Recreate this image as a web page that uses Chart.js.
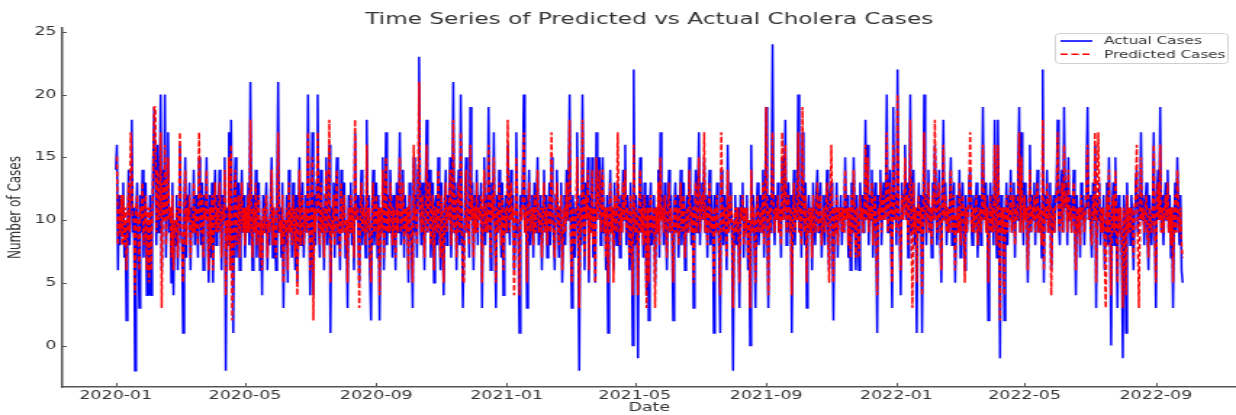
<!DOCTYPE html>
<html>
<head>
<meta charset="utf-8">
<script src="https://cdn.jsdelivr.net/npm/chart.js@4.4.0/dist/chart.umd.min.js"></script>
<style>
  html, body { margin: 0; padding: 0; background: #fff; overflow: hidden; }
  /* the reference is a horizontally stretched figure, so the canvas is stretched the same way */
  #wrap { position: absolute; left: 0; top: 0; width: 852px; height: 415px; transform: scaleX(1.4507); transform-origin: 0 0; }
</style>
</head>
<body>
<div id="wrap"><canvas id="chart" width="852" height="415"></canvas></div>
<script>
const chartTitle = 'Time Series of Predicted vs Actual Cholera Cases';
const startDate = '2020-01-01';
const tickLabels = ['2020-01', '2020-05', '2020-09', '2021-01', '2021-05', '2021-09', '2022-01', '2022-05', '2022-09'];
const yTicks = [0, 5, 10, 15, 20, 25];

// daily values, one row = 20 days
const actualCases = [
  14,16,6,12,8,11,9,13,7,10,2,9,14,8,12,18,9,11,-2,10,
  13,8,3,12,9,14,7,11,13,4,10,4,12,4,9,15,19,13,8,16,
  9,12,20,6,14,10,20,7,12,17,9,11,5,13,4,10,8,12,6,11,
  16,9,8,1,11,15,7,12,10,13,6,11,9,14,8,12,10,7,15,11,
  8,13,6,12,10,15,9,5,12,7,13,5,11,14,8,12,9,14,11,6,
  12,10,15,-2,11,8,17,6,18,9,1,12,15,7,10,13,6,11,14,9,
  12,7,11,9,13,8,21,10,6,12,9,14,7,11,13,6,10,4,12,9,
  11,13,6,10,8,12,15,7,11,9,6,12,21,9,11,7,13,3,10,8,
  12,5,14,9,11,7,13,10,6,12,5,9,15,8,11,13,7,10,12,9,
  20,11,4,9,17,4,12,8,13,20,10,7,14,9,11,6,12,15,8,10,
  16,1,11,9,13,7,12,15,8,10,6,14,9,11,13,7,10,3,12,9,
  13,8,11,6,17,10,12,9,5,11,14,8,12,10,7,18,9,12,6,2,
  11,14,8,10,13,7,12,2,11,9,15,6,10,17,8,12,9,14,11,7,
  12,10,6,13,9,11,17,8,10,14,7,12,9,11,5,13,10,8,3,15,
  9,12,7,14,23,11,8,13,10,6,12,18,9,11,14,7,10,13,5,11,
  12,8,15,10,6,13,9,4,11,14,8,12,10,15,7,11,21,9,13,6,
  11,14,8,20,10,3,3,12,15,9,11,7,19,10,13,6,12,9,14,8,
  12,10,13,3,11,15,8,12,9,19,11,6,13,10,17,8,3,12,9,14,
  11,7,13,4,10,12,9,16,11,8,14,10,12,6,9,17,11,8,1,12,
  10,13,20,9,12,3,11,14,8,10,12,7,13,9,11,15,8,10,12,6,
  11,14,9,12,7,10,13,8,15,11,9,6,12,14,10,7,11,13,5,9,
  12,8,14,10,13,20,9,3,12,10,7,11,17,9,-2,12,8,20,11,6,
  13,10,15,5,12,9,15,7,11,5,17,10,13,15,8,12,15,9,11,6,
  12,1,10,14,9,11,6,13,10,8,13,11,7,12,9,14,10,16,8,12,
  10,6,13,9,0,22,8,12,10,-1,11,15,9,12,7,13,10,4,12,2,
  11,13,8,10,12,5,11,9,14,7,17,10,12,8,13,10,6,11,14,9,
  12,8,2,11,13,9,12,7,10,14,8,11,13,6,10,12,9,15,11,8,
  12,3,10,14,9,12,17,8,11,13,10,15,9,12,7,11,14,8,12,10,
  1,12,9,13,10,7,1,14,11,8,12,10,6,16,9,11,13,8,-2,10,
  12,8,11,9,3,12,10,13,7,11,9,12,6,10,0,16,9,12,8,3,
  11,13,8,10,12,9,14,7,11,19,10,3,12,9,13,24,11,8,12,10,
  13,9,11,7,15,10,12,18,8,11,13,9,12,1,10,14,8,12,10,20,
  9,12,7,17,11,8,13,3,10,12,9,11,6,13,10,8,12,14,9,11,
  13,7,10,12,8,11,14,9,6,12,13,10,2,11,9,13,7,11,10,12,
  8,11,9,15,10,12,7,11,6,13,9,15,10,6,12,9,6,13,10,12,
  9,11,18,10,16,8,12,10,14,7,11,13,9,1,12,10,14,8,11,13,
  10,12,20,9,11,14,8,3,19,10,12,8,22,11,9,4,13,10,12,16,
  10,13,7,11,20,9,12,14,8,11,1,10,13,9,12,1,10,20,11,8,
  12,14,9,11,7,13,10,16,12,8,11,14,9,5,12,18,10,13,8,11,
  9,12,15,8,11,13,5,10,12,9,14,7,11,13,10,6,12,9,11,13,
  14,10,8,12,9,11,13,7,10,12,8,11,19,10,13,9,12,2,10,13,
  9,12,8,18,11,7,18,10,-1,12,9,11,2,10,13,8,12,10,14,9,
  11,13,7,12,10,14,19,9,17,11,8,13,10,12,5,11,16,9,12,10,
  13,8,11,14,9,12,10,7,22,5,12,10,14,9,11,13,6,10,12,9,
  11,13,18,10,8,12,14,9,19,11,13,8,15,10,12,9,11,14,10,4,
  12,9,11,7,13,10,12,8,11,14,19,10,12,9,7,13,10,16,3,12,
  10,13,8,11,9,12,6,10,13,8,15,9,0,11,13,8,15,10,3,12,
  9,11,7,-1,12,10,1,13,9,11,8,12,10,6,11,13,14,9,12,10,
  17,10,12,8,11,13,9,6,12,10,8,11,17,9,3,12,14,10,19,9,
  12,8,11,13,10,14,9,12,7,11,3,10,13,9,15,11,8,12,6,5
];

const predictedCases = [
  15,15,8,11,9,12,8,12,8,11,6,9,13,9,17,14,10,10,4,11,
  12,9,6,11,10,13,8,10,12,6,11,5,11,6,10,14,19,19,9,14,
  10,11,17,3,13,10,16,8,11,15,10,11,7,12,6,10,9,11,7,10,
  17,10,8,5,10,14,8,11,10,12,7,10,9,13,9,11,10,8,17,11,
  9,12,7,11,10,14,9,6,11,8,12,6,11,13,9,11,9,13,11,7,
  11,10,14,4,10,8,15,6,16,2,6,11,14,8,10,12,7,11,13,9,
  11,8,11,9,12,9,18,10,7,11,9,13,8,11,12,7,10,6,11,9,
  11,12,7,10,9,11,14,8,11,9,7,11,17,9,10,8,12,5,10,9,
  11,6,13,9,11,8,12,10,7,11,4,9,14,8,11,12,8,10,11,9,
  17,11,6,9,15,2,11,9,12,17,10,8,13,9,11,7,11,14,9,10,
  18,5,10,9,12,8,11,14,9,10,7,13,9,11,12,8,10,5,11,9,
  12,9,11,7,18,10,11,9,3,11,13,9,11,10,8,16,9,11,7,5,
  11,13,9,10,12,8,11,4,11,9,14,7,10,15,9,11,9,13,11,8,
  11,10,7,12,9,11,15,9,10,13,8,11,9,11,6,12,10,9,5,16,
  10,11,8,13,21,11,9,12,10,7,11,16,9,11,13,8,10,12,6,11,
  11,9,14,10,7,12,9,5,11,13,9,11,10,14,8,11,18,9,12,7,
  11,13,9,17,10,5,5,11,14,9,11,8,16,10,12,7,11,9,13,9,
  11,10,12,5,11,14,9,11,9,16,11,7,12,10,15,9,5,11,9,13,
  11,8,12,6,10,11,9,18,11,9,13,10,11,4,9,15,11,9,4,11,
  10,12,17,9,11,5,11,13,9,10,11,8,12,9,11,14,9,10,11,7,
  11,13,9,11,8,10,12,9,17,11,9,7,11,13,10,8,11,12,6,9,
  11,9,13,10,12,18,9,5,11,10,8,11,15,9,3,11,9,18,11,7,
  12,10,14,6,11,9,14,8,11,5,15,10,12,14,9,11,14,9,11,7,
  11,5,10,13,9,11,5,12,10,9,17,11,8,11,9,13,10,14,9,11,
  10,7,12,9,4,16,9,11,10,4,11,14,9,11,8,12,10,3,11,5,
  11,12,9,10,11,3,11,9,13,8,15,10,11,9,12,10,7,11,13,9,
  11,9,5,11,12,9,11,8,10,13,9,11,12,7,10,11,9,14,11,9,
  11,5,10,13,9,11,15,9,11,12,10,17,9,11,8,11,13,9,11,10,
  5,11,9,12,10,8,4,17,11,9,11,10,7,14,9,11,12,9,3,10,
  11,9,11,9,5,11,10,12,8,11,9,11,7,10,3,14,9,11,9,5,
  11,12,9,10,11,9,13,8,11,19,10,4,11,9,12,17,11,9,11,10,
  12,9,11,8,17,10,11,16,9,11,12,9,11,4,10,13,9,11,10,17,
  9,11,8,19,11,9,12,5,10,11,9,11,7,12,10,9,11,13,9,11,
  12,8,10,11,9,11,13,9,5,11,16,10,5,11,9,12,8,11,10,11,
  9,11,9,14,10,11,8,11,7,12,9,14,10,7,11,9,7,12,10,11,
  9,11,16,10,15,9,11,10,13,8,11,12,9,4,11,10,13,9,11,12,
  10,11,17,9,11,13,9,5,16,10,11,9,20,11,9,6,12,10,11,15,
  10,12,8,11,18,9,3,13,9,11,5,10,12,9,11,4,10,17,11,9,
  11,13,9,11,8,12,10,18,11,9,11,13,9,6,11,16,10,12,9,11,
  9,11,14,9,11,12,6,10,11,9,13,8,11,12,10,5,11,9,11,12,
  17,10,9,11,9,11,12,8,10,11,9,11,16,10,12,9,11,5,10,12,
  9,11,9,16,11,8,16,10,2,11,9,11,4,10,12,9,11,10,13,9,
  11,12,8,11,10,13,17,9,15,11,9,12,10,11,6,11,14,9,11,10,
  12,9,11,13,9,11,10,8,18,6,11,10,13,9,11,12,4,10,11,9,
  11,12,17,10,9,11,13,9,16,11,12,9,14,10,11,9,11,13,10,6,
  11,9,11,8,12,10,11,9,11,13,16,10,11,9,8,12,10,17,5,11,
  17,12,9,11,9,11,7,3,12,9,14,9,4,11,12,9,14,10,5,11,
  9,11,8,3,11,10,4,12,9,11,9,11,10,7,11,12,16,9,3,10,
  15,10,11,9,11,12,9,7,11,10,9,11,16,9,5,11,13,10,16,9,
  11,9,11,12,10,13,9,11,8,11,5,10,12,9,14,11,9,11,8,7
];

// day offsets from the start date
const DAY = 86400000;
const start = Date.parse(startDate + 'T00:00:00Z');
function dayOffset(label) {
  const [yy, mm] = label.split('-').map(Number);
  return (Date.UTC(yy, mm - 1, 1) - start) / DAY;
}
const tickDays = tickLabels.map(dayOffset);
const days = actualCases.map((v, i) => i);

Chart.defaults.font.family = '"DejaVu Sans", sans-serif';
Chart.defaults.color = '#333';

// inward tick marks and the title centred over the axes
const axesExtras = {
  id: 'axesExtras',
  afterDraw(chart) {
    const {ctx, chartArea: a, scales: {x, y}} = chart;
    ctx.save();
    ctx.strokeStyle = '#555';
    ctx.lineWidth = 1;
    ctx.beginPath();
    x.ticks.forEach(t => {
      const px = Math.round(x.getPixelForValue(t.value)) + 0.5;
      ctx.moveTo(px, a.bottom);
      ctx.lineTo(px, a.bottom - 4);
    });
    y.ticks.forEach(t => {
      const py = Math.round(y.getPixelForValue(t.value)) + 0.5;
      ctx.moveTo(a.left, py);
      ctx.lineTo(a.left + 3, py);
    });
    ctx.stroke();

    ctx.fillStyle = '#333';
    ctx.font = '16px "DejaVu Sans"';
    ctx.textAlign = 'center';
    ctx.textBaseline = 'alphabetic';
    ctx.fillText(chartTitle, (a.left + a.right) / 2, 23.5);
    ctx.restore();
  }
};

// legend box in the upper right corner of the axes
const boxLegend = {
  id: 'boxLegend',
  afterDraw(chart) {
    const ctx = chart.ctx;
    const bx = 727, by = 33, bw = 119, bh = 30;
    ctx.save();
    ctx.fillStyle = 'rgba(255,255,255,0.8)';
    ctx.strokeStyle = '#d0d0d0';
    ctx.lineWidth = 1;
    ctx.beginPath();
    ctx.roundRect(bx + 0.5, by + 0.5, bw, bh, 3);
    ctx.fill();
    ctx.stroke();
    ctx.font = '10.5px "DejaVu Sans"';
    ctx.textBaseline = 'middle';
    ctx.textAlign = 'left';
    chart.data.datasets.forEach((ds, i) => {
      const ly = by + 8 + i * 13.3;
      ctx.strokeStyle = ds.borderColor;
      ctx.lineWidth = 1.6;
      ctx.setLineDash(ds.borderDash || []);
      ctx.beginPath();
      ctx.moveTo(bx + 4, ly);
      ctx.lineTo(bx + 26, ly);
      ctx.stroke();
      ctx.setLineDash([]);
      ctx.fillStyle = '#333';
      ctx.fillText(ds.label, bx + 34, ly + 0.5);
    });
    ctx.restore();
  }
};

new Chart(document.getElementById('chart'), {
  type: 'line',
  data: {
    labels: days,
    datasets: [
      {
        label: 'Actual Cases',
        data: actualCases,
        borderColor: '#0000ff',
        borderWidth: 1.5,
        pointRadius: 0,
        tension: 0,
        order: 1
      },
      {
        label: 'Predicted Cases',
        data: predictedCases,
        borderColor: '#ff0000',
        borderWidth: 1.5,
        borderDash: [5, 2.5],
        pointRadius: 0,
        tension: 0,
        order: 0
      }
    ]
  },
  options: {
    responsive: false,
    animation: false,
    devicePixelRatio: 1,
    layout: { padding: { top: 28, right: 0, bottom: 0, left: 0 } },
    plugins: {
      legend: { display: false },
      tooltip: { enabled: false }
    },
    scales: {
      x: {
        type: 'linear',
        min: -50,
        max: 1049,
        afterBuildTicks: s => { s.ticks = tickDays.map(v => ({ value: v })); },
        afterFit: s => { s.height = 28; },
        ticks: {
          callback: v => tickLabels[tickDays.indexOf(v)],
          font: { size: 12 },
          color: '#333',
          padding: 2,
          maxRotation: 0,
          autoSkip: false
        },
        grid: { display: false, drawTicks: false },
        border: { display: true, color: '#555', width: 1.5 },
        title: { display: true, text: 'Date', font: { size: 12 }, color: '#333', padding: { top: 0, bottom: 0 } }
      },
      y: {
        min: -3.3,
        max: 25.3,
        afterBuildTicks: s => { s.ticks = yTicks.map(v => ({ value: v })); },
        afterFit: s => { s.width = 43; },
        ticks: { font: { size: 12 }, color: '#333', padding: 4 },
        grid: { display: false, drawTicks: false },
        border: { display: true, color: '#555', width: 1.5 },
        title: { display: true, text: 'Number of Cases', font: { size: 12 }, color: '#333', padding: { top: 4, bottom: 0 } }
      }
    }
  },
  plugins: [axesExtras, boxLegend]
});
</script>
</body>
</html>
